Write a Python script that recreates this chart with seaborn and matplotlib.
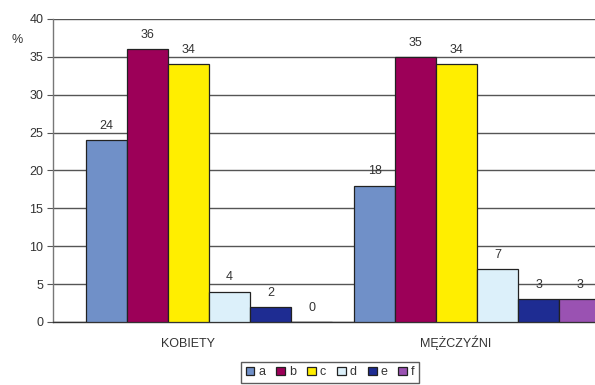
import pandas as pd
import matplotlib.pyplot as plt
import matplotlib.transforms as mtransforms
import seaborn as sns

# --- Data ---
groups = ['KOBIETY', 'MĘŻCZYŹNI']
series = ['a', 'b', 'c', 'd', 'e', 'f']
kobiety = [24, 36, 34, 4, 2, 0]
mezczyzni = [18, 35, 34, 7, 3, 3]
yticks = [0, 5, 10, 15, 20, 25, 30, 35, 40]

colors = ['#7090C8', '#9C0058', '#FFEE00', '#DCF0FA', '#1E2C92', '#9A52B2']

df = pd.DataFrame({
    'grupa': [groups[0]] * len(series) + [groups[1]] * len(series),
    'seria': series * 2,
    'value': kobiety + mezczyzni,
})

# --- Plot ---
sns.set_style('white')
plt.rcParams['font.family'] = ['Liberation Sans', 'DejaVu Sans']
text_col = '#333333'

fig = plt.figure(figsize=(5.95, 3.85), dpi=100)
ax = fig.add_axes([53 / 595, 1 - 322 / 385, 1 - 53 / 595, (322 - 19) / 385])

sns.barplot(data=df, x='grupa', y='value', hue='seria', palette=colors,
            width=0.918, saturation=1, edgecolor='#222222', linewidth=0.9,
            ax=ax, zorder=3)

for cont in ax.containers:
    ax.bar_label(cont, fmt='%g', padding=6, fontsize=9, color=text_col)

ax.set_ylim(0, 40)
ax.set_xlim(-0.582, 1.44)
ax.set_yticks(yticks)
ax.yaxis.grid(True, color='#555555', linewidth=1.0, zorder=0)
ax.set_axisbelow(True)
ax.tick_params(axis='y', length=4, width=0.8, color='#555555', labelsize=9,
               labelcolor=text_col, pad=3, left=True)
ax.set_xticks([])
ax.set_xlabel('')
ax.set_ylabel('')

# category labels, baseline-aligned so the accents don't push them down
trans = mtransforms.blended_transform_factory(ax.transData, fig.transFigure)
for pos, name in zip([-0.08, 0.92], groups):
    ax.text(pos, 1 - 347 / 385, name, transform=trans, ha='center',
            va='baseline', fontsize=9, color=text_col, clip_on=False)

for side in ['top', 'right']:
    ax.spines[side].set_visible(False)
ax.spines['left'].set_color('#777777')
ax.spines['left'].set_linewidth(1.0)
ax.spines['bottom'].set_color('#333333')
ax.spines['bottom'].set_linewidth(1.0)

fig.text(12 / 595, 1 - 40 / 385, '%', fontsize=9, color=text_col, va='center')

handles, labels = ax.get_legend_handles_labels()
ax.legend_.remove()
leg = fig.legend(handles, labels, loc='upper center', ncol=6,
                 bbox_to_anchor=(330 / 595, 1 - 362 / 385), borderaxespad=0,
                 fontsize=9, handlelength=0.7, handleheight=0.7,
                 handletextpad=0.3, columnspacing=0.9, borderpad=0.35,
                 frameon=True, fancybox=False, edgecolor='#333333')
leg.get_frame().set_linewidth(1.0)
for t in leg.get_texts():
    t.set_color(text_col)

fig.savefig('out.png', dpi=100)
